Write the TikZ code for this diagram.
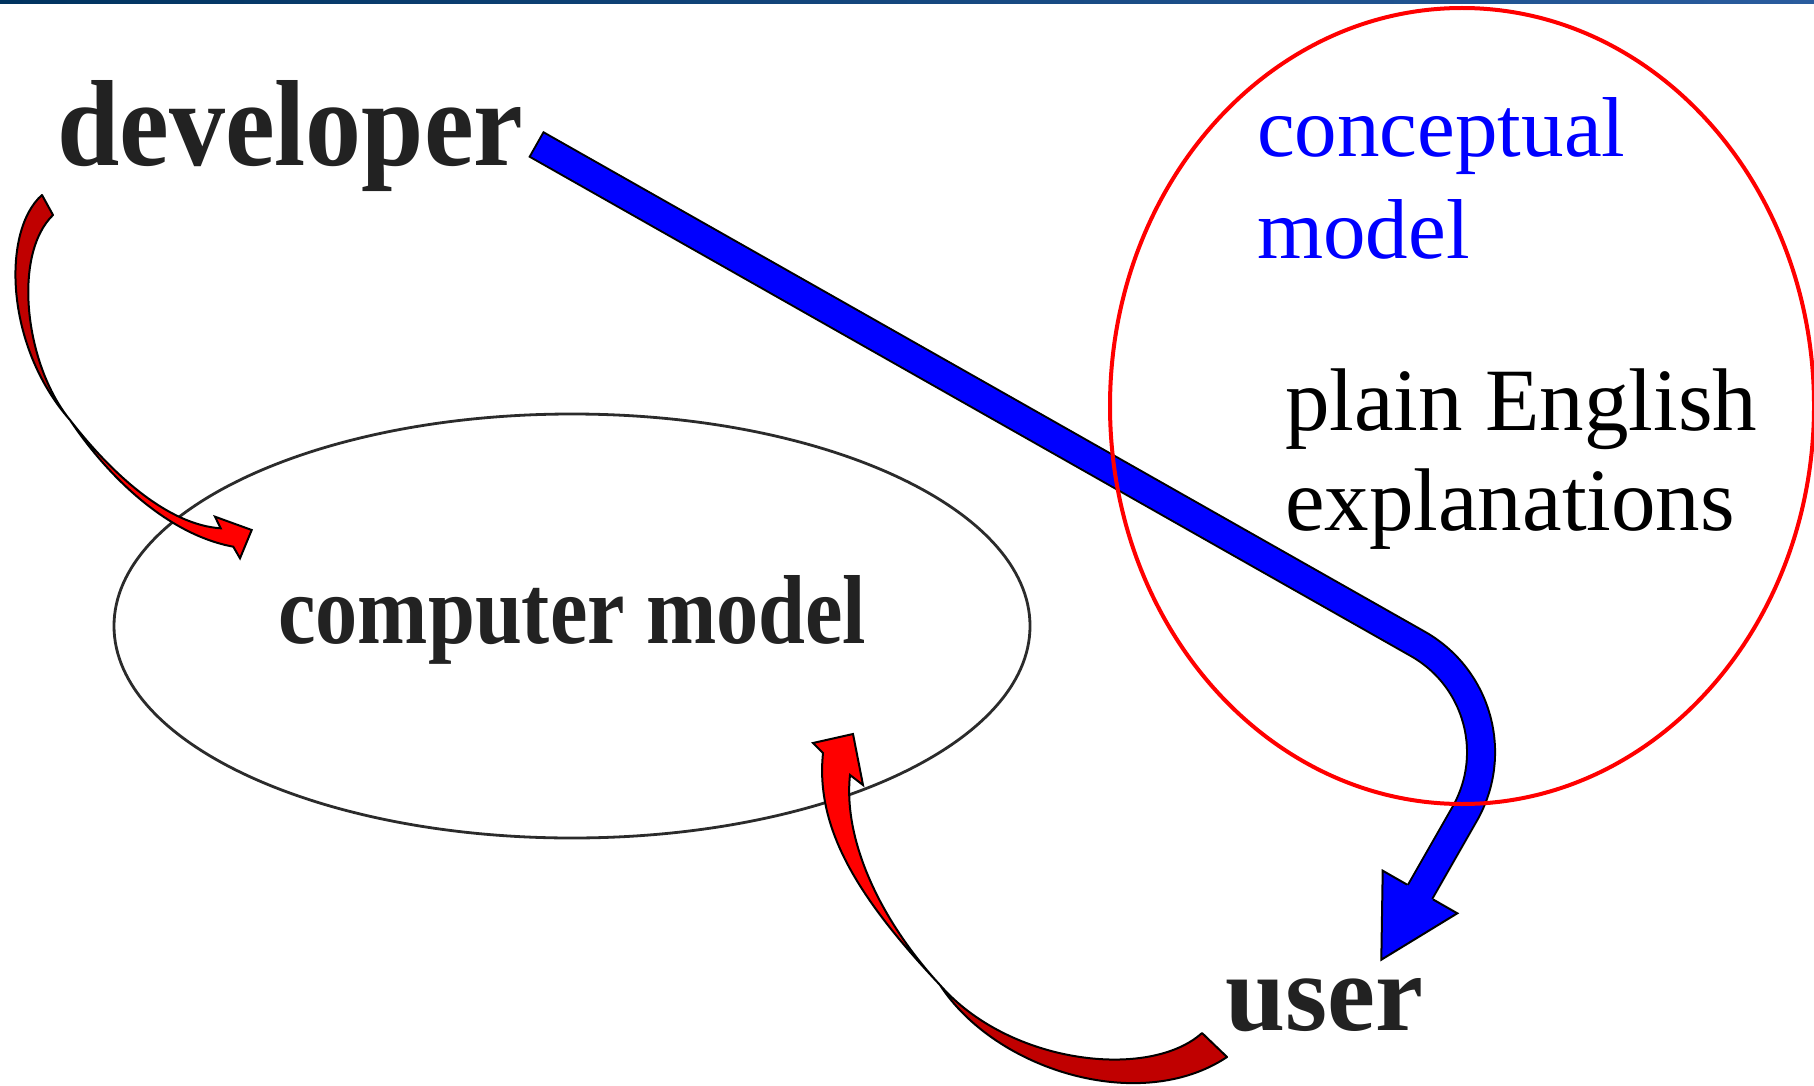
\documentclass[tikz,border=0pt]{standalone}
\usepackage{fontspec}
\usepackage{graphicx}
\usetikzlibrary{shapes.geometric}
\setmainfont{Liberation Serif}

\definecolor{inkgray}{HTML}{222222}
\definecolor{rimgray}{HTML}{2B2B2B}
\definecolor{ribbondark}{HTML}{C00000}
\definecolor{ribbonlight}{HTML}{FF0000}
\definecolor{barleft}{HTML}{00335F}
\definecolor{barright}{HTML}{2A5C9E}

\begin{document}
\begin{tikzpicture}[x=1pt,y=-1pt,
  word/.style={inner sep=0pt, anchor=base west, text=inkgray},
  plainword/.style={inner sep=0pt, anchor=base west, align=left},
  ribbondarkpart/.style={fill=ribbondark, draw=black, line width=2pt, line join=round},
  ribbonlightpart/.style={fill=ribbonlight, draw=black, line width=2pt, line join=miter},
]
\useasboundingbox (0,0) rectangle (1814,1086);
\fill[white] (0,0) rectangle (1814,1086);

% title bar along the top edge
\shade[left color=barleft, right color=barright] (0,0) rectangle (1814,4);

% the computer model
\node[draw=rimgray, line width=2.8pt, ellipse, minimum width=916pt, minimum height=424pt, inner sep=0pt] (cmshape) at (572,626) {};

% words
\node[word] (dev) at (57,166) {\resizebox{466pt}{85pt}{\bfseries developer}};
\node[word] (cmtext) at (278,643) {\resizebox{588pt}{68pt}{\bfseries computer model}};
\node[word] (usr) at (1225,1030) {\resizebox{198pt}{52pt}{\bfseries user}};
\node[plainword, text=blue, font=\fontsize{85}{101}\selectfont] (cmodel) at (1257,258) {conceptual\\model};
\node[plainword, text=black, font=\fontsize{89}{100}\selectfont] (plain) at (1285,530) {plain English\\explanations};

% broad blue arrow from the developer to the user
\coordinate (bstart) at (537.5,145);
\coordinate (bbend) at (1526.6,705.5);
\coordinate (bend) at (1418,895.5);
\draw[line width=30pt, black, rounded corners=125pt, shorten <=-2pt] (bstart) -- (bbend) -- (bend);
\draw[line width=26pt, blue, rounded corners=125pt] (bstart) -- (bbend) -- (bend);
\filldraw[fill=blue, draw=black, line width=2pt, line join=miter]
  (1407,884.6) -- (1382.7,870.7) -- (1381.3,959.7) -- (1457.3,913.3) -- (1433,899.4);

% the conceptual model
\node[draw=red, line width=4pt, ellipse, minimum width=704pt, minimum height=796pt, inner sep=0pt] (cshape) at (1462,406) {};

% curved ribbon arrow: developer to computer model
\filldraw[ribbondarkpart] (42,195) .. controls (2,230) and (4,345) .. (70,420)
  .. controls (25,365) and (12,255) .. (53,215) -- cycle;
\filldraw[ribbonlightpart] (70,420) .. controls (110,480) and (170,535) .. (233.3,546.7)
  -- (240,558.3) -- (251.7,530) -- (215,516.7) -- (220.7,528.3)
  .. controls (170,525) and (115,478) .. (70,420) -- cycle;

% curved ribbon arrow: user to computer model
\filldraw[ribbondarkpart] (1202,1033) .. controls (1150,1080) and (1010,1065) .. (940,985)
  .. controls (995,1070) and (1140,1115) .. (1227,1057) -- cycle;
\filldraw[ribbonlightpart] (940,985) .. controls (860,900) and (815,830) .. (823,753)
  -- (813,743) -- (853,734) -- (863,785) -- (850,775)
  .. controls (843,840) and (880,920) .. (940,985) -- cycle;
\end{tikzpicture}
\end{document}
